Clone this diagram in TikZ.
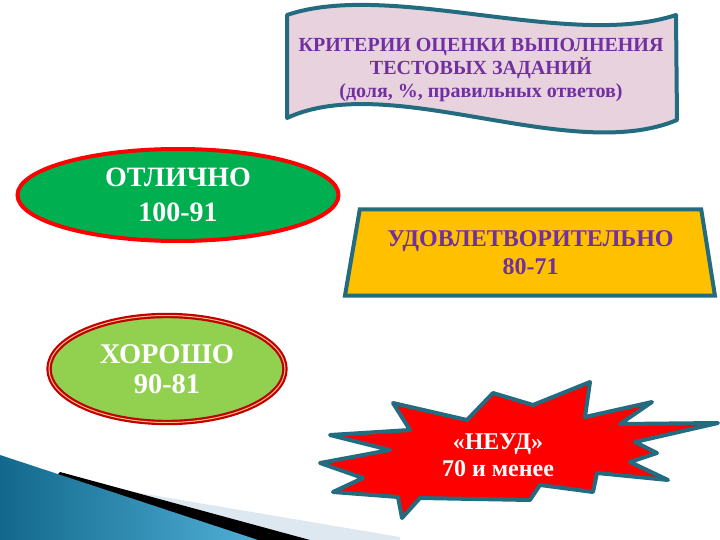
\documentclass[tikz,border=0pt]{standalone}
\usepackage{fontspec}
\setmainfont{Liberation Serif}
\usepackage{tikz}
\usetikzlibrary{shapes.geometric,positioning}

\definecolor{okgreen}{RGB}{0,176,80}
\definecolor{lightgreen}{RGB}{146,208,80}
\definecolor{amber}{RGB}{255,192,0}
\definecolor{edgeteal}{RGB}{35,108,128}
\definecolor{textpurple}{RGB}{112,48,160}
\definecolor{bannerpink}{RGB}{232,210,222}
\definecolor{darkred}{RGB}{192,0,0}
\definecolor{paleband}{RGB}{222,232,240}
\definecolor{cornerdark}{RGB}{18,104,140}
\definecolor{cornerlight}{RGB}{80,175,215}

\begin{document}
\begin{tikzpicture}[x=1pt,y=-1pt,
    mark5/.style={font=\bfseries\fontsize{28}{35}\selectfont, align=center, text=white},
    mark4/.style={font=\bfseries\fontsize{28.5}{30}\selectfont, align=center, text=white},
    mark3/.style={font=\bfseries\fontsize{24}{28}\selectfont, align=center, text=textpurple},
    mark2/.style={font=\bfseries\fontsize{24}{27}\selectfont, align=center, text=white},
    headtext/.style={font=\bfseries\fontsize{20}{23}\selectfont, align=center, text=textpurple}]
            \useasboundingbox (0,0) rectangle (720,540);
            % corner decoration
            \fill[paleband] (110,488) -- (400,537) -- (400,540) -- (0,540) -- cycle;
            \fill[black] (60,472) -- (310,540) -- (0,540) -- cycle;
            \shade[left color=cornerdark, right color=cornerlight] (0,455) -- (258,540) -- (0,540) -- cycle;
            % banner
            \filldraw[fill=bannerpink, draw=edgeteal, line width=4pt, line join=round]
                (287,15) .. controls (390,-20) and (570,50) .. (676,15)
                -- (677,120) .. controls (570,165) and (390,70) .. (287,118) -- cycle;
            \node[headtext] (head) at (481,70) {КРИТЕРИИ ОЦЕНКИ ВЫПОЛНЕНИЯ\\ТЕСТОВЫХ ЗАДАНИЙ\\(доля, \%, правильных ответов)};
            % grades
            \node[ellipse, fill=okgreen, draw=red, line width=4pt, minimum width=321pt, minimum height=92pt, mark5] (five) at (178,195) {ОТЛИЧНО\\100-91};
            \node[ellipse, fill=lightgreen, draw=darkred, double=orange!50, double distance=1pt, line width=2.2pt, minimum width=236pt, minimum height=107pt, mark4] (four) at (167,369) {ХОРОШО\\90-81};
            \node[trapezium, trapezium stretches=true, trapezium left angle=76, trapezium right angle=77, fill=amber, draw=edgeteal, line width=4pt, minimum width=371pt, minimum height=86pt, mark3] (three) at (530.5,252.5) {УДОВЛЕТВОРИТЕЛЬНО\\80-71};
            \filldraw[fill=red, draw=edgeteal, line width=4pt, line join=round]
                (393,403) -- (467,420) -- (493,393) -- (533,405) -- (590,382) -- (585,417) -- (652,402)
                -- (620,424) -- (718,423) -- (635,442) -- (657,453) -- (630,462) -- (668,480) -- (597,473)
                -- (593,492) -- (540,485) -- (530,500) -- (420,498) -- (402,518) -- (398,497) -- (333,492)
                -- (363,478) -- (320,463) -- (390,450) -- (330,435) -- (410,430) -- cycle;
            \node[mark2] (two) at (498,455) {«НЕУД»\\70 и менее};
        \end{tikzpicture}
\end{document}
